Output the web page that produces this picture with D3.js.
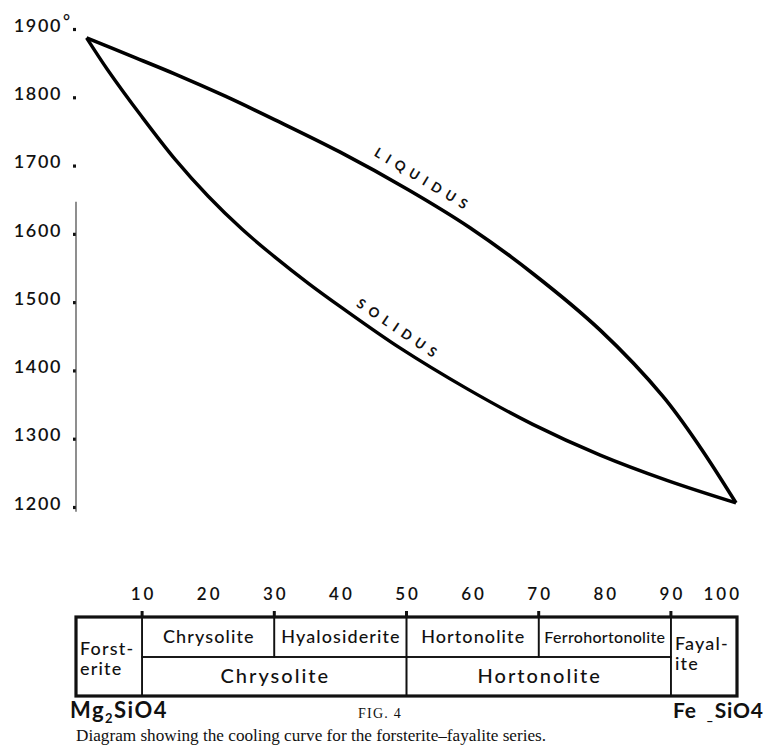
<!DOCTYPE html>
<html>
<head>
<meta charset="utf-8">
<script src="https://cdn.jsdelivr.net/npm/d3@7/dist/d3.min.js"></script>
<style>
  html,body{margin:0;padding:0;background:#fff}
  svg{display:block}
  .geo{font-family:Lato,"DejaVu Sans",sans-serif;fill:#111}
  .serif{font-family:"Liberation Serif","DejaVu Serif",serif;fill:#111}
</style>
</head>
<body>
<svg id="chart" width="774" height="746"></svg>
<script>
// temperature axis (degrees C) and composition scale (% Fe2SiO4)
const tempTicks = [1900, 1800, 1700, 1600, 1500, 1400, 1300, 1200]
const compTicks = [10, 20, 30, 40, 50, 60, 70, 80, 90, 100]

// curves
const liquidusComp = [1.6, 8.2, 15.0, 22.5, 30.1, 39.9, 50.2, 59.6, 69.1, 79.3, 88.8, 94.4, 99.85]
const liquidusTemp = [1887, 1861, 1834, 1802, 1767, 1720, 1665, 1609, 1542, 1459, 1362, 1288, 1206]
const solidusComp = [1.6, 4.8, 10.0, 15.0, 20.0, 25.1, 30.1, 35.1, 40.2, 49.0, 59.2, 69.1, 79.3, 89.4, 99.85]
const solidusTemp = [1887, 1840, 1771, 1709, 1655, 1607, 1566, 1528, 1492, 1433, 1373, 1321, 1276, 1239, 1206]

// mineral names along the composition bar
const subNames = ['Chrysolite', 'Hyalosiderite', 'Hortonolite', 'Ferrohortonolite']
const subFrom = [10, 30, 50, 70]
const subTo = [30, 50, 70, 90]
const mainNames = ['Chrysolite', 'Hortonolite']
const mainFrom = [10, 50]
const mainTo = [50, 90]
const endNames = [['Forst-', 'erite'], ['Fayal-', 'ite']]
const endFrom = [0, 90]

const svg = d3.select('#chart')

const x = d3.scaleLinear().domain([0, 100]).range([76, 737])
const y = d3.scaleLinear().domain([1200, 1900]).range([507, 29])

// --- temperature axis
const yAxis = d3.axisLeft(y).tickValues(tempTicks).tickSize(3).tickPadding(11).tickFormat(d => d)
const gy = svg.append('g').attr('transform', `translate(${x(0)},0)`).call(yAxis)
gy.select('.domain').remove()
gy.selectAll('.tick line').attr('stroke', '#111').attr('stroke-width', 3.2)
gy.selectAll('.tick text')
  .attr('class', 'geo')
  .attr('dy', '0.12em')
  .style('font-size', '18px')
  .style('font-weight', 600)
  .style('letter-spacing', '1.6px')
gy.append('text').attr('class', 'geo')
  .attr('x', -13).attr('y', y(1900)).attr('dy', '-0.1em')
  .attr('text-anchor', 'start')
  .style('font-size', '17px').style('font-weight', 600)
  .text('°')
svg.append('line')
  .attr('x1', x(0)).attr('x2', x(0))
  .attr('y1', y(1647)).attr('y2', y(1193))
  .attr('stroke', '#444').attr('stroke-width', 1.2)

// --- curves
const line = d3.line().x(d => x(d[0])).y(d => y(d[1])).curve(d3.curveCatmullRom.alpha(0.5))
const liq = d3.zip(liquidusComp, liquidusTemp)
const sol = d3.zip(solidusComp, solidusTemp)
svg.append('path').datum(liq).attr('d', line)
  .attr('fill', 'none').attr('stroke', '#000').attr('stroke-width', 3.6).attr('stroke-linejoin', 'round')
svg.append('path').datum(sol).attr('d', line)
  .attr('fill', 'none').attr('stroke', '#000').attr('stroke-width', 3.4).attr('stroke-linejoin', 'round')

function curveLabel(txt, c, t, angle){
  svg.append('text').attr('class', 'geo')
    .attr('transform', `translate(${x(c)},${y(t)}) rotate(${angle})`)
    .attr('text-anchor', 'middle')
    .style('font-size', '13.5px').style('font-weight', 700)
    .style('letter-spacing', '6px')
    .text(txt)
}
curveLabel('LIQUIDUS', 52.2, 1673, 31)
curveLabel('SOLIDUS', 48.5, 1454, 34)

// --- composition bar
const top0 = 617, mid = 657, bot = 696

svg.selectAll('.ctick').data(compTicks).enter().append('text')
  .attr('class', 'geo')
  .attr('x', d => d === 100 ? x(d) + 5 : x(d) + 1.5)
  .attr('y', 600)
  .attr('text-anchor', d => d === 100 ? 'end' : 'middle')
  .style('font-size', '17px').style('font-weight', 600).style('letter-spacing', '3px')
  .text(d => d)

// marks above the bar at the boundaries
svg.selectAll('.bmark').data(subFrom.concat([90])).enter().append('line')
  .attr('x1', d => x(d)).attr('x2', d => x(d))
  .attr('y1', top0 - 6).attr('y2', top0)
  .attr('stroke', '#111').attr('stroke-width', 3)

// sub-division cells (upper row)
subNames.forEach((n, i) => {
  const long = n.length > 13
  svg.append('rect')
    .attr('x', x(subFrom[i])).attr('y', top0)
    .attr('width', x(subTo[i]) - x(subFrom[i])).attr('height', mid - top0)
    .attr('fill', 'none').attr('stroke', '#111').attr('stroke-width', 1.6)
  svg.append('text').attr('class', 'geo')
    .attr('x', (x(subFrom[i]) + x(subTo[i])) / 2 + (long ? 0 : 0.6)).attr('y', 643)
    .attr('text-anchor', 'middle')
    .style('font-size', long ? '16px' : '18px')
    .style('font-weight', 500)
    .style('letter-spacing', long ? '0.3px' : '1.1px')
    .text(n)
})

// main cells (lower row)
mainNames.forEach((n, i) => {
  svg.append('rect')
    .attr('x', x(mainFrom[i])).attr('y', mid)
    .attr('width', x(mainTo[i]) - x(mainFrom[i])).attr('height', bot - mid)
    .attr('fill', 'none').attr('stroke', '#111').attr('stroke-width', 1.6)
  svg.append('text').attr('class', 'geo')
    .attr('x', (x(mainFrom[i]) + x(mainTo[i])) / 2 + 1).attr('y', 683)
    .attr('text-anchor', 'middle')
    .style('font-size', '20px').style('font-weight', 500).style('letter-spacing', '2px')
    .text(n)
})

// end members
endNames.forEach((parts, i) => {
  const t = svg.append('text').attr('class', 'geo')
    .style('font-size', '18px').style('font-weight', 500).style('letter-spacing', '1.2px')
  const base = i === 0 ? 655 : 650
  parts.forEach((p, j) => {
    t.append('tspan').attr('x', x(endFrom[i]) + 4).attr('y', base + j * 20).text(p)
  })
})
svg.append('line')
  .attr('x1', x(10)).attr('x2', x(10)).attr('y1', top0).attr('y2', bot)
  .attr('stroke', '#111').attr('stroke-width', 1.6)
svg.append('line')
  .attr('x1', x(90)).attr('x2', x(90)).attr('y1', top0).attr('y2', bot)
  .attr('stroke', '#111').attr('stroke-width', 1.6)

// outer frame
svg.append('rect')
  .attr('x', x(0)).attr('y', top0)
  .attr('width', x(100) - x(0)).attr('height', bot - top0)
  .attr('fill', 'none').attr('stroke', '#111').attr('stroke-width', 3.2)

// --- formulas and caption
const mg = svg.append('text').attr('class', 'geo')
  .attr('x', 70).attr('y', 718)
  .style('font-size', '22px').style('font-weight', 700).style('letter-spacing', '1.5px')
mg.append('tspan').text('Mg')
mg.append('tspan').attr('dy', 5).style('font-size', '13px').text('2')
mg.append('tspan').attr('dy', -5).text('SiO')
mg.append('tspan').text('4')

const fe = svg.append('text').attr('class', 'geo')
  .attr('x', 673).attr('y', 718)
  .style('font-size', '21px').style('font-weight', 700).style('letter-spacing', '0.8px')
fe.append('tspan').text('Fe')
fe.append('tspan').attr('dx', 10).attr('dy', 2).style('font-size', '13px').text('_')
fe.append('tspan').attr('dx', 1).attr('dy', -2).text('SiO')
fe.append('tspan').text('4')

svg.append('text').attr('class', 'serif')
  .attr('x', 380).attr('y', 718)
  .attr('text-anchor', 'middle')
  .style('font-size', '14px').style('letter-spacing', '1.2px')
  .text('FIG. 4')

svg.append('text').attr('class', 'serif')
  .attr('x', 76).attr('y', 741)
  .style('font-size', '17.2px')
  .text('Diagram showing the cooling curve for the forsterite\u2013fayalite series.')
</script>
</body>
</html>
